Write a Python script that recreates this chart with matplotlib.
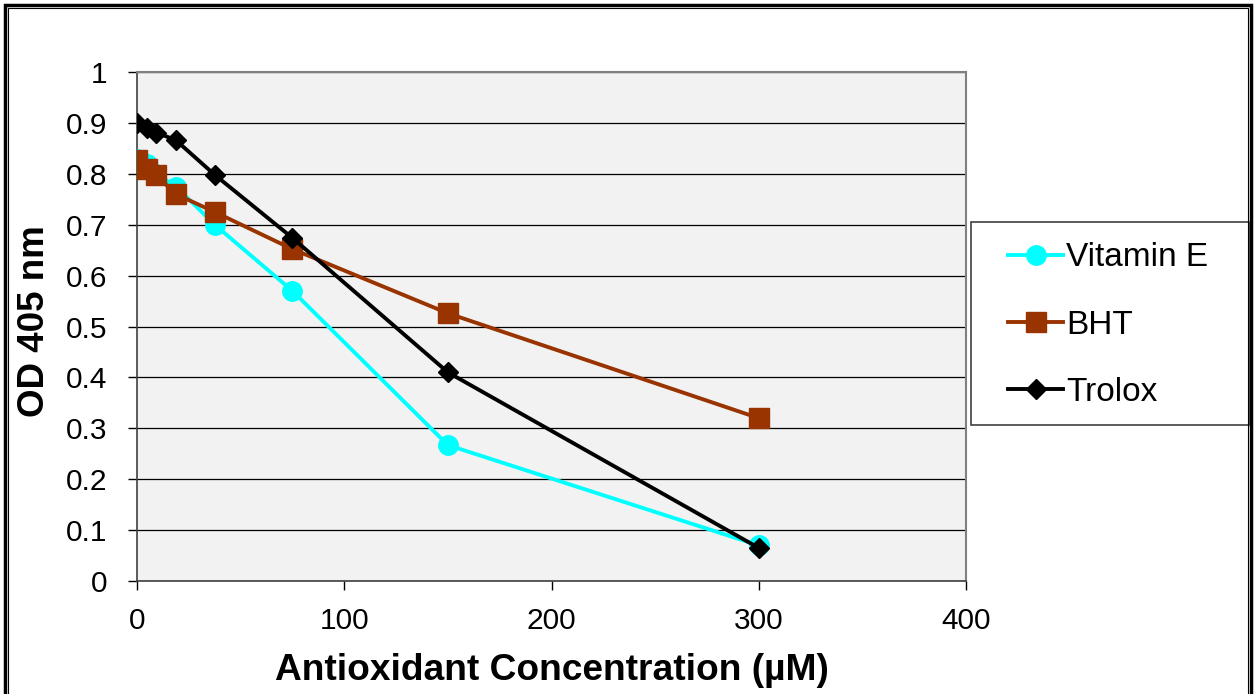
import matplotlib.pyplot as plt
from matplotlib.patches import Rectangle

# concentrations (uM) and OD 405 readings
conc = [0, 4.7, 9.4, 18.75, 37.5, 75, 150, 300]
vitamin_e = [0.83, 0.82, 0.80, 0.775, 0.70, 0.57, 0.267, 0.07]
bht = [0.827, 0.81, 0.797, 0.76, 0.725, 0.652, 0.526, 0.32]
trolox = [0.899, 0.89, 0.881, 0.866, 0.798, 0.674, 0.41, 0.065]

x_ticks = [0, 100, 200, 300, 400]
y_ticks = [0, 0.1, 0.2, 0.3, 0.4, 0.5, 0.6, 0.7, 0.8, 0.9, 1]
y_labels = ['0', '0.1', '0.2', '0.3', '0.4', '0.5', '0.6', '0.7', '0.8', '0.9', '1']

plt.rcParams['font.family'] = ['Liberation Sans', 'DejaVu Sans']

W, H = 1255, 694
fig = plt.figure(figsize=(W / 100, H / 100), dpi=100)
ax = fig.add_axes([137 / W, 1 - 581 / H, (966 - 137) / W, (581 - 72) / H])
ax.set_facecolor('#f2f2f2')

ax.plot(conc, vitamin_e, color='#00ffff', lw=2.8, marker='o', ms=14,
        label='Vitamin E', zorder=3)
ax.plot(conc, bht, color='#993300', lw=2.8, marker='s', ms=14.5,
        label='BHT', zorder=4)
ax.plot(conc, trolox, color='black', lw=2.8, marker='D', ms=10.5,
        label='Trolox', zorder=5)

ax.set_xlim(0, 400)
ax.set_ylim(0, 1)
ax.set_xticks(x_ticks)
ax.set_yticks(y_ticks)
ax.set_yticklabels(y_labels)
ax.yaxis.grid(True, color='black', lw=0.9)
ax.set_axisbelow(True)
ax.tick_params(axis='both', direction='out', length=6.5, width=1,
               labelsize=21.5)
ax.tick_params(axis='x', pad=12)
ax.tick_params(axis='y', pad=15)
for s in ['top', 'right']:
    ax.spines[s].set_color('#808080')
    ax.spines[s].set_linewidth(1.5)
for s in ['left', 'bottom']:
    ax.spines[s].set_color('#404040')
    ax.spines[s].set_linewidth(1.2)

fig.text(552 / W, 1 - 671 / H, 'Antioxidant Concentration (µM)',
         fontsize=26.7, fontweight='bold', ha='center', va='center')
fig.text(35 / W, 1 - 321 / H, 'OD 405 nm', fontsize=26.5,
         fontweight='bold', rotation=90, ha='center', va='center')

# legend box drawn separately, legend entries placed inside it
fig.patches.append(Rectangle((971 / W, 1 - 425 / H), (1249 - 971) / W,
                             (425 - 222) / H, transform=fig.transFigure,
                             fc='white', ec='#404040', lw=1.2))
leg = fig.legend(loc='center left', bbox_to_anchor=(1008 / W, 1 - 325 / H),
                 fontsize=24, frameon=False, handlelength=1.65,
                 handletextpad=0.1, labelspacing=1.09, borderpad=0,
                 borderaxespad=0)

# double frame around the whole picture
fig.patches.append(Rectangle((4.5 / W, -0.1), (1251 - 4.5) / W, 1 + 0.1 - 4.5 / H,
                             transform=fig.transFigure, fill=False,
                             ec='black', lw=2.5))
fig.patches.append(Rectangle((8 / W, -0.1), (1248 - 8) / W, 1 + 0.1 - 8 / H,
                             transform=fig.transFigure, fill=False,
                             ec='black', lw=0.8))

fig.savefig('out.png', dpi=100)
